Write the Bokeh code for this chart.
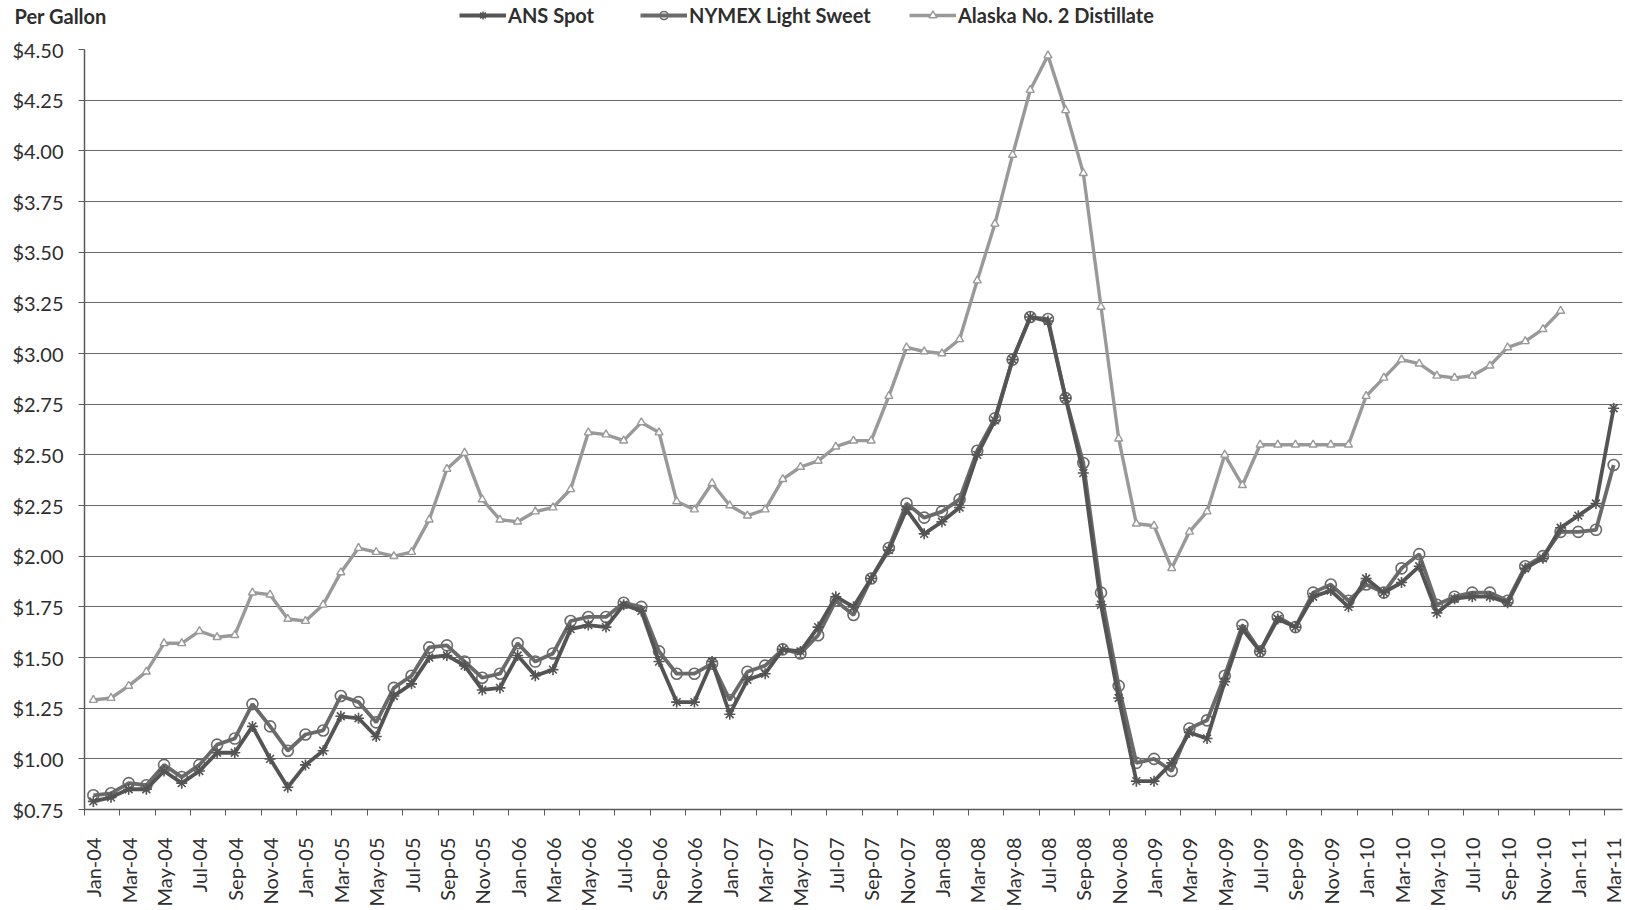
import math
from bokeh.plotting import figure
from bokeh.layouts import column
from bokeh.models import Range1d, FixedTicker, NumeralTickFormatter, Legend, LegendItem, Label
from bokeh.embed import file_html
from bokeh.resources import INLINE

# ---------------- data ----------------
MONTH_NAMES = ["Jan", "Feb", "Mar", "Apr", "May", "Jun",
               "Jul", "Aug", "Sep", "Oct", "Nov", "Dec"]
YEARS = ["04", "05", "06", "07", "08", "09", "10", "11"]
N_MONTHS = 87  # Jan-04 .. Mar-11
months = [f"{m}-{y}" for y in YEARS for m in MONTH_NAMES][:N_MONTHS]

ans_spot = [
    0.79, 0.81, 0.85, 0.85, 0.94, 0.88, 0.94, 1.03, 1.03, 1.16, 1.00, 0.86,   # 2004
    0.97, 1.04, 1.21, 1.20, 1.11, 1.31, 1.37, 1.50, 1.51, 1.46, 1.34, 1.35,   # 2005
    1.51, 1.41, 1.44, 1.64, 1.66, 1.65, 1.76, 1.73, 1.48, 1.28, 1.28, 1.48,   # 2006
    1.22, 1.39, 1.42, 1.54, 1.53, 1.65, 1.80, 1.75, 1.89, 2.03, 2.23, 2.11,   # 2007
    2.17, 2.24, 2.50, 2.67, 2.97, 3.18, 3.16, 2.78, 2.41, 1.76, 1.30, 0.89,   # 2008
    0.89, 0.98, 1.13, 1.10, 1.38, 1.64, 1.53, 1.69, 1.65, 1.80, 1.83, 1.75,   # 2009
    1.89, 1.82, 1.87, 1.95, 1.72, 1.79, 1.80, 1.80, 1.77, 1.94, 1.99, 2.14,   # 2010
    2.20, 2.26, 2.73,                                                         # 2011
]

nymex_light_sweet = [
    0.82, 0.83, 0.88, 0.87, 0.97, 0.91, 0.97, 1.07, 1.10, 1.27, 1.16, 1.04,
    1.12, 1.14, 1.31, 1.28, 1.18, 1.35, 1.41, 1.55, 1.56, 1.48, 1.40, 1.42,
    1.57, 1.48, 1.52, 1.68, 1.70, 1.70, 1.77, 1.75, 1.53, 1.42, 1.42, 1.47,
    1.29, 1.43, 1.46, 1.54, 1.52, 1.61, 1.78, 1.71, 1.89, 2.04, 2.26, 2.19,
    2.22, 2.28, 2.52, 2.68, 2.97, 3.18, 3.17, 2.78, 2.46, 1.82, 1.36, 0.98,
    1.00, 0.94, 1.15, 1.19, 1.41, 1.66, 1.53, 1.70, 1.65, 1.82, 1.86, 1.78,
    1.86, 1.82, 1.94, 2.01, 1.76, 1.80, 1.82, 1.82, 1.78, 1.95, 2.00, 2.12,
    2.12, 2.13, 2.45,
]

alaska_no2_distillate = [
    1.29, 1.30, 1.36, 1.43, 1.57, 1.57, 1.63, 1.60, 1.61, 1.82, 1.81, 1.69,
    1.68, 1.76, 1.92, 2.04, 2.02, 2.00, 2.02, 2.18, 2.43, 2.51, 2.28, 2.18,
    2.17, 2.22, 2.24, 2.33, 2.61, 2.60, 2.57, 2.66, 2.61, 2.27, 2.23, 2.36,
    2.25, 2.20, 2.23, 2.38, 2.44, 2.47, 2.54, 2.57, 2.57, 2.79, 3.03, 3.01,
    3.00, 3.07, 3.36, 3.64, 3.98, 4.30, 4.47, 4.20, 3.89, 3.23, 2.58, 2.16,
    2.15, 1.94, 2.12, 2.22, 2.50, 2.35, 2.55, 2.55, 2.55, 2.55, 2.55, 2.55,
    2.79, 2.88, 2.97, 2.95, 2.89, 2.88, 2.89, 2.94, 3.03, 3.06, 3.12, 3.21,
]

Y_TICKS = [0.75, 1.00, 1.25, 1.50, 1.75, 2.00, 2.25, 2.50, 2.75,
           3.00, 3.25, 3.50, 3.75, 4.00, 4.25, 4.50]

SERIES_LABELS = ["ANS Spot", "NYMEX Light Sweet", "Alaska No. 2 Distillate"]

# ---------------- style ----------------
FONT = "Lato"
ANS_C = "#545454"
NYM_C = "#6a6a6a"
ALA_C = "#999999"
TXT_C = "#2e2e2e"

W = 1624
HEAD_H = 30
H = 879
BL, BR, BT, BB = 84, 2, 19, 88

STYLE = {
    "ans": dict(line=dict(line_color=ANS_C, line_width=3.8),
                mark=dict(marker="asterisk", size=11, line_color=ANS_C, line_width=1.6)),
    "nym": dict(line=dict(line_color=NYM_C, line_width=3.8),
                mark=dict(marker="circle", size=11, line_color=NYM_C, fill_color=None, line_width=1.6)),
    "ala": dict(line=dict(line_color=ALA_C, line_width=3.4),
                mark=dict(marker="triangle", size=8, line_color=ALA_C, fill_color="white", line_width=1.4)),
}

# ---------------- main chart ----------------
p = figure(width=W, height=H, output_backend="svg", toolbar_location=None,
           x_range=Range1d(-0.5, N_MONTHS - 0.5), y_range=Range1d(Y_TICKS[0], Y_TICKS[-1]),
           min_border_left=BL, min_border_right=BR, min_border_top=BT, min_border_bottom=BB)
p.frame_align = False
p.outline_line_color = None
p.background_fill_color = "white"
p.border_fill_color = "white"

p.xgrid.visible = False
p.ygrid.grid_line_color = "#6a6a6a"
p.ygrid.grid_line_width = 1.2

p.yaxis.ticker = FixedTicker(ticks=Y_TICKS)
p.yaxis.formatter = NumeralTickFormatter(format="$0.00")
p.yaxis.axis_line_color = "#5a5a5a"
p.yaxis.axis_line_width = 1.5
p.yaxis.major_tick_line_color = "#5a5a5a"
p.yaxis.major_tick_out = 6
p.yaxis.major_tick_in = 0
p.yaxis.minor_tick_line_color = None
p.yaxis.major_label_standoff = 15
p.yaxis.major_label_text_font = FONT
p.yaxis.major_label_text_font_size = "20px"
p.yaxis.major_label_text_color = TXT_C

xt = list(range(0, N_MONTHS, 2))
p.xaxis.ticker = FixedTicker(ticks=xt, minor_ticks=[t - 0.5 for t in xt])
p.xaxis.major_label_overrides = {t: months[t] for t in xt}
p.xaxis.major_label_orientation = math.pi / 2
p.xaxis.axis_line_color = "#5a5a5a"
p.xaxis.axis_line_width = 1.5
p.xaxis.major_tick_out = 0
p.xaxis.major_tick_in = 0
p.xaxis.minor_tick_out = 6
p.xaxis.minor_tick_in = 0
p.xaxis.minor_tick_line_color = "#5a5a5a"
p.xaxis.major_label_standoff = 22
p.xaxis.major_label_text_font = FONT
p.xaxis.major_label_text_font_size = "20px"
p.xaxis.major_label_text_color = TXT_C

x_all = list(range(N_MONTHS))
xa = x_all[:len(alaska_no2_distillate)]

p.line(xa, alaska_no2_distillate, **STYLE["ala"]["line"])
p.scatter(xa, alaska_no2_distillate, **STYLE["ala"]["mark"])
p.line(x_all, nymex_light_sweet, **STYLE["nym"]["line"])
p.scatter(x_all, nymex_light_sweet, **STYLE["nym"]["mark"])
p.line(x_all, ans_spot, **STYLE["ans"]["line"])
p.scatter(x_all, ans_spot, **STYLE["ans"]["mark"])

# ---------------- header strip: title + legend ----------------
hd = figure(width=W, height=HEAD_H, output_backend="svg", toolbar_location=None,
            x_range=Range1d(0, W), y_range=Range1d(0, HEAD_H),
            x_axis_type=None, y_axis_type=None,
            min_border_left=0, min_border_right=0, min_border_top=0, min_border_bottom=0)
hd.frame_align = False
hd.outline_line_color = None
hd.xgrid.visible = False
hd.ygrid.visible = False
hd.background_fill_color = "white"
hd.border_fill_color = "white"

NAN = float("nan")
for key, label, lx in zip(["ans", "nym", "ala"], SERIES_LABELS, [459, 640, 909]):
    # legend proxies (no visible data)
    r_line = hd.line(x=[NAN, NAN], y=[NAN, NAN], **STYLE[key]["line"])
    r_mark = hd.scatter(x=[NAN], y=[NAN], **STYLE[key]["mark"])
    lg = Legend(items=[LegendItem(label=label, renderers=[r_line, r_mark])],
                location=(lx, 3), orientation="horizontal",
                glyph_width=47, glyph_height=20, label_standoff=2,
                padding=0, margin=0, spacing=0,
                border_line_color=None, background_fill_alpha=0,
                label_text_font=FONT, label_text_font_size="20px",
                label_text_font_style="bold", label_text_color=TXT_C)
    hd.add_layout(lg, "center")

hd.add_layout(Label(x=14, y=HEAD_H - 15, x_units="screen", y_units="screen",
                    text="Per Gallon", text_font=FONT, text_font_size="20px",
                    text_font_style="bold", text_color=TXT_C, text_baseline="middle"))

layout = column(hd, p, spacing=0)
open("out.html", "w").write(file_html(layout, INLINE))
